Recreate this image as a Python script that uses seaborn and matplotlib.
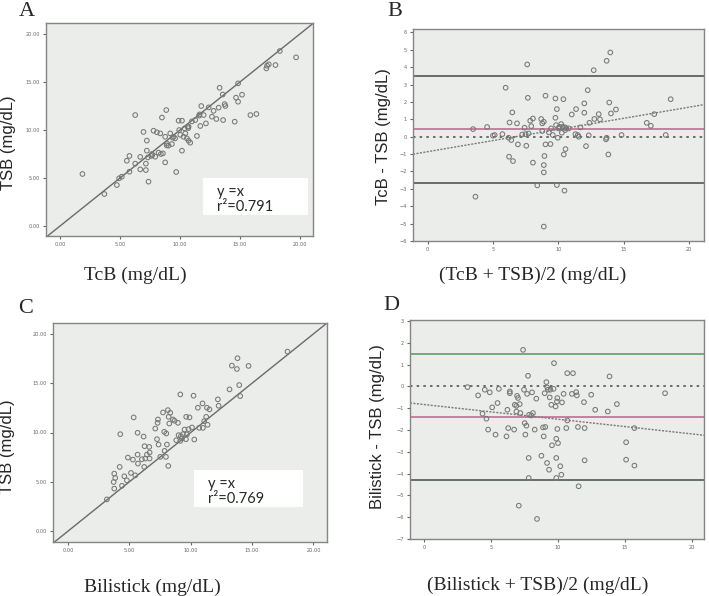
import numpy as np
import pandas as pd
import matplotlib
matplotlib.use("Agg")
import matplotlib.pyplot as plt
from matplotlib.ticker import FormatStrFormatter
import seaborn as sns

# ---------------- data ----------------
# Panel A: TcB vs TSB
a_tcb = [1.87, 3.7, 4.74, 4.93, 5.15, 5.79, 5.57, 5.79, 6.27, 6.27, 6.69, 6.69, 6.96, 7.16, 7.16,
         7.24, 7.24, 7.33, 7.38, 7.66, 7.8, 7.94, 8.08, 8.22, 8.36, 8.41, 8.5, 8.58, 8.77, 8.77,
         8.86, 8.91, 9.05, 9.19, 9.33, 9.47, 9.6, 9.69, 9.89, 9.94, 10.03, 10.17, 10.17, 10.3,
         10.39, 10.45, 10.58, 10.64, 10.72, 10.72, 10.86, 11.0, 11.28, 11.42, 11.64, 11.7, 11.78,
         11.98, 12.17, 12.4, 12.67, 12.81, 13.04, 13.23, 13.31, 13.57, 13.6, 13.73, 13.79, 14.57,
         14.68, 14.85, 14.85, 15.18, 15.88, 16.38, 17.21, 17.27, 17.41, 17.97, 18.33, 19.69,
         7.7, 9.4, 10.7, 11.6, 8.9, 7.6]
a_tsb = [5.42, 3.33, 4.27, 4.97, 5.14, 5.66, 6.8, 7.3, 6.5, 11.56, 5.9, 7.2, 9.8, 6.5, 5.83,
         8.9, 7.85, 7.15, 4.62, 7.5, 9.93, 7.22, 9.76, 7.64, 9.65, 7.5, 11.3, 7.57, 9.3, 6.63,
         12.08, 8.6, 8.37, 9.65, 8.54, 9.3, 9.13, 5.63, 10.97, 10.0, 9.5, 10.97, 7.85, 9.3,
         10.17, 9.65, 9.13, 10.35, 10.35, 8.89, 8.68, 10.9, 11.04, 9.38, 11.63, 10.42, 12.5,
         11.56, 10.69, 12.36, 11.39, 12.0, 11.15, 12.33, 14.4, 13.7, 11.04, 12.7, 12.5, 10.87,
         13.37, 14.86, 12.95, 13.68, 11.56, 11.67, 16.42, 16.7, 16.84, 16.77, 18.23, 17.57,
         7.4, 9.2, 10.2, 11.5, 8.4, 7.3]

# Panel B: Bland-Altman TcB - TSB
b_mean = [3.48, 3.66, 4.55, 5.0, 5.13, 5.72, 5.97, 6.2, 6.23, 6.27, 6.4, 6.48, 6.53, 6.84, 6.91,
          7.24, 7.42, 7.5, 7.55, 7.62, 7.67, 7.73, 7.85, 7.93, 8.06, 8.06, 8.39, 8.69, 8.77, 8.77,
          8.89, 8.89, 8.89, 8.89, 8.94, 9.02, 9.02, 9.28, 9.4, 9.45, 9.58, 9.78, 9.78, 9.83, 9.89,
          9.89, 9.96, 10.01, 10.09, 10.22, 10.27, 10.34, 10.39, 10.42, 10.47, 10.52, 10.52, 10.6,
          10.55, 10.8, 11.03, 11.31, 11.36, 11.49, 11.56, 11.69, 11.99, 11.99, 12.12, 12.25, 12.33,
          12.38, 12.71, 12.76, 13.09, 13.19, 13.65, 13.7, 13.7, 13.83, 13.9, 13.98, 14.03, 14.41,
          14.84, 16.77, 17.08, 17.34, 18.22, 18.6]
b_diff = [0.44, -3.45, 0.56, 0.06, 0.1, 0.15, 2.82, -0.06, -1.15, 0.82, -0.19, 1.4, -1.4, 0.77, -0.44,
          0.13, 0.52, 0.15, -0.52, 4.16, 2.24, 0.19, 0.92, 0.61, 1.05, -1.49, -2.8, 1.02, 0.77, 0.33,
          0.86, -1.63, -2.05, -5.17, -1.11, 2.36, -0.44, 0.25, -0.42, 0.48, 0.1, 2.2, 1.09, 0.67, 1.59,
          -2.78, -0.06, 0.48, 0.57, 0.73, 0.23, 0.57, 2.16, -1.02, -3.1, 0.38, 0.54, 0.48,
          -0.71, 0.48, 1.28, 0.15, 1.59, 0.1, 0.0, 0.54, 1.92, 1.38, -0.54, 2.68, 0.08,
          0.8, 3.83, 1.02, 1.3, 1.0, -0.15, 4.37, -0.06, -1.02, 1.97, 4.85, 1.34, 1.57,
          0.1, 0.8, 0.63, 1.3, 0.1, 2.16]
b_upper, b_bias, b_lower = 3.5, 0.44, -2.64
b_slope, b_intercept = 0.128, -0.86

# Panel C: Bilistick vs TSB
c_bili = [3.17, 3.72, 3.77, 3.77, 3.85, 4.21, 4.26, 4.4, 4.59, 4.8, 4.88, 5.13, 5.29, 5.35, 5.48,
          5.67, 5.67, 5.7, 6.02, 6.16, 6.21, 6.24, 6.3, 6.43, 6.65, 6.62, 6.65, 7.11, 7.25, 7.3,
          7.33, 7.38, 7.52, 7.74, 7.84, 7.87, 7.98, 8.01, 8.06, 8.14, 8.17, 8.2, 8.25, 8.33, 8.55,
          8.68, 8.82, 8.96, 9.01, 9.15, 9.15, 9.2, 9.28, 9.36, 9.5, 9.61, 9.63, 9.69, 9.82, 9.9,
          10.1, 10.23, 10.29, 10.69, 10.58, 10.96, 10.99, 11.1, 11.26, 11.32, 11.37, 11.53, 12.21,
          12.27, 13.16, 13.35, 13.76, 13.81, 13.95, 14.03, 14.71, 17.88]
c_tsb = [3.22, 4.98, 4.31, 5.83, 5.39, 6.51, 9.83, 4.6, 5.56, 5.15, 7.46, 5.9, 7.25, 11.53, 5.66,
         9.97, 7.76, 6.85, 7.29, 9.59, 6.51, 8.61, 7.36, 7.76, 7.97, 8.54, 7.36, 10.4, 9.32, 10.98,
         11.32, 8.78, 7.53, 12.03, 10.07, 8.14, 7.53, 9.9, 8.78, 12.27, 6.61, 11.59, 10.91, 12.0, 11.32,
         11.19, 9.22, 10.98, 9.73, 13.86, 9.15, 9.63, 9.39, 9.83, 10.3, 9.32, 11.59, 9.8, 10.34, 11.53,
         10.51, 13.73, 9.29, 10.47, 12.51, 12.95, 10.47, 11.15, 11.59, 12.51, 10.78, 12.34, 13.36,
         12.71, 14.37, 16.78, 16.44, 17.53, 14.81, 13.69, 16.75, 18.2]

# Panel D: Bland-Altman Bilistick - TSB
d_mean = [3.23, 4.02, 4.35, 4.52, 4.64, 4.77, 4.89, 5.07, 5.32, 5.47, 5.57, 6.14, 6.21, 6.27, 6.39,
          6.39, 6.71, 6.76, 6.88, 6.93, 6.88, 7.0, 7.06, 7.13, 7.18, 7.38, 7.45, 7.5, 7.55, 7.63,
          7.68, 7.75, 7.8, 7.8, 7.83, 8.0, 8.05, 8.12, 8.25, 8.37, 8.42, 8.75, 8.87, 8.92, 8.99,
          9.04, 9.12, 9.17, 9.19, 9.24, 9.32, 9.37, 9.42, 9.49, 9.54, 9.66, 9.69, 9.81, 9.86, 9.86,
          9.86, 9.91, 9.94, 9.94, 9.99, 10.16, 10.24, 10.29, 10.41, 10.61, 10.68, 10.68, 11.03,
          11.11, 11.35, 11.4, 11.48, 11.53, 11.93, 11.98, 11.98, 12.47, 12.77, 13.71, 13.84, 14.39,
          15.08, 15.08, 15.7, 15.7, 17.99]
d_diff = [-0.03, -0.41, -1.25, -0.15, -1.48, -1.98, -0.27, -0.96, -2.21, -0.76, -0.11, -2.29, -1.07, -1.91, -0.23,
          -0.31, -1.98, -0.84, -0.89, -0.43, -1.15, -0.53, -5.47, -0.81, -1.22, 1.68, -0.15, -1.68, -2.21, -1.8,
          -0.34, 0.49, -3.28, -4.2, -1.3, -1.33, -0.27, -1.22, -1.98, -0.56, -6.08, -3.18, -1.88, -2.29, -0.31,
          -1.86, 0.2, -3.51, -0.05, -0.15, -3.82, -0.5, -0.15, -0.84, -2.7, -0.11, 1.07, -0.92, -4.2, -3.28,
          -2.4, -0.69, -0.53, -1.95, -2.6, -3.66, -4.05, -0.73, -0.34, -1.91, -1.56, 0.61, -0.34,
          0.61, -0.26, -0.41, -1.86, -4.58, -0.72, -1.91, -3.39, -0.38, -1.07, -1.15, 0.46, -0.81,
          -2.56, -3.36, -1.91, -3.63, -0.31]
d_upper, d_bias, d_lower = 1.47, -1.42, -4.27
d_slope, d_intercept = -0.0674, -0.83

r2_a = "0.791"
r2_c = "0.769"

# ---------------- styling ----------------
sns.set_style("ticks")
plt.rcParams['font.family'] = ['DejaVu Sans']

W, H = 709, 596
fig = plt.figure(figsize=(W / 100, H / 100), dpi=100)

BG = "#eaedea"
FRAME = "#858585"
PT = "#777777"
SERIF = ["Liberation Serif", "DejaVu Serif"]
SANS = ["Liberation Sans", "DejaVu Sans"]


def make_ax(l, r, t, b):
    return fig.add_axes([l / W, 1 - b / H, (r - l) / W, (b - t) / H])


def style(ax):
    ax.set_facecolor(BG)
    for s in ax.spines.values():
        s.set_color(FRAME)
        s.set_linewidth(1.0)
    ax.tick_params(axis="both", direction="out", length=2.5, width=0.8, color="#666666",
                   labelsize=3.6, labelcolor="#666666", pad=2)
    ax.set_xlabel("")
    ax.set_ylabel("")


def scatter(ax, x, y):
    df = pd.DataFrame({"x": x, "y": y})
    sns.scatterplot(data=df, x="x", y="y", ax=ax, marker="o", s=11,
                    facecolor="none", edgecolor=PT, linewidth=0.75, legend=False, zorder=3)


def textbox(ax, l, r, t, b, r2):
    rect = plt.Rectangle((l / W, 1 - b / H), (r - l) / W, (b - t) / H, transform=fig.transFigure,
                         facecolor="white", edgecolor="none", zorder=5)
    fig.patches.append(rect)
    fig.text((l + 14) / W, 1 - (t + 14) / H, "y =x", fontsize=10.5, family=["Lato", "DejaVu Sans"],
             va="center", ha="left", zorder=6)
    fig.text((l + 14) / W, 1 - (t + 29) / H, "r\u00b2=" + r2, fontsize=10.5, family=["Lato", "DejaVu Sans"],
             va="center", ha="left", zorder=6)


# ---------- Panel A ----------
axA = make_ax(46, 313, 23, 236)
scatter(axA, a_tcb, a_tsb)
axA.axline((0, 0), slope=1, color="#6a6a6a", lw=1.0, zorder=2)
axA.set_xlim(-1.17, 21.1)
axA.set_ylim(-1.04, 21.15)
axA.set_xticks([0, 5, 10, 15, 20])
axA.set_yticks([0, 5, 10, 15, 20])
axA.xaxis.set_major_formatter(FormatStrFormatter("%.2f"))
axA.yaxis.set_major_formatter(FormatStrFormatter("%.2f"))
style(axA)
textbox(axA, 203, 308, 178, 215, r2_a)

# ---------- Panel B ----------
axB = make_ax(413, 704, 29, 241)
scatter(axB, b_mean, b_diff)
axB.axhline(b_upper, color="#4e5955", lw=1.2, zorder=2)
axB.axhline(b_lower, color="#4e5955", lw=1.2, zorder=2)
axB.axhline(b_bias, color="#c46b93", lw=1.2, zorder=2)
axB.axhline(0, color="#555555", lw=1.2, ls=(0, (1.5, 2.5)), zorder=2)
axB.axline((0, b_intercept), slope=b_slope, color="#7a7a7a", lw=1.0, ls=(0, (1.5, 1)), zorder=2)
axB.set_xlim(-1.12, 21.15)
axB.set_ylim(-6, 6.2)
axB.set_xticks([0, 5, 10, 15, 20])
axB.set_yticks(list(range(-6, 7)))
style(axB)

# ---------- Panel C ----------
axC = make_ax(53, 327, 323, 542)
scatter(axC, c_bili, c_tsb)
axC.axline((0, 0), slope=1, color="#6a6a6a", lw=1.0, zorder=2)
axC.set_xlim(-1.22, 21.1)
axC.set_ylim(-1.1, 21.1)
axC.set_xticks([0, 5, 10, 15, 20])
axC.set_yticks([0, 5, 10, 15, 20])
axC.xaxis.set_major_formatter(FormatStrFormatter("%.2f"))
axC.yaxis.set_major_formatter(FormatStrFormatter("%.2f"))
style(axC)
textbox(axC, 194, 303, 470, 507, r2_c)

# ---------- Panel D ----------
axD = make_ax(410, 704, 320, 539)
scatter(axD, d_mean, d_diff)
axD.axhline(d_upper, color="#5f9e6e", lw=1.2, zorder=2)
axD.axhline(d_lower, color="#4e5955", lw=1.2, zorder=2)
axD.axhline(d_bias, color="#c46b93", lw=1.2, zorder=2)
axD.axhline(0, color="#555555", lw=1.2, ls=(0, (1.5, 2.5)), zorder=2)
axD.axline((0, d_intercept), slope=d_slope, color="#7a7a7a", lw=1.0, ls=(0, (1.5, 1)), zorder=2)
axD.set_xlim(-1.07, 20.9)
axD.set_ylim(-7, 3.05)
axD.set_xticks([0, 5, 10, 15, 20])
axD.set_yticks(list(range(-7, 4)))
style(axD)

# ---------- labels ----------
def ftext(x, y, s, **kw):
    fig.text(x / W, 1 - y / H, s, ha="center", va="center", **kw)

ftext(27, 11, "A", fontsize=16, family=SERIF)
ftext(395, 12, "B", fontsize=16, family=SERIF)
ftext(26, 309, "C", fontsize=16, family=SERIF)
ftext(391, 306, "D", fontsize=16, family=SERIF)

ftext(9, 143, "TSB (mg/dL)", fontsize=12, family=SANS, rotation=90)
ftext(383, 137, "TcB - TSB (mg/dL)", fontsize=12, family=SANS, rotation=90)
ftext(8, 447, "TSB (mg/dL)", fontsize=12, family=SANS, rotation=90)
ftext(378, 427, "Bilistick - TSB (mg/dL)", fontsize=12, family=SANS, rotation=90)

ftext(135, 275, "TcB (mg/dL)", fontsize=14, family=SERIF)
ftext(533, 275, "(TcB + TSB)/2 (mg/dL)", fontsize=14, family=SERIF)
ftext(152, 587, "Bilistick (mg/dL)", fontsize=14, family=SERIF)
ftext(538, 585, "(Bilistick + TSB)/2 (mg/dL)", fontsize=14, family=SERIF)

fig.savefig("out.png", dpi=100, facecolor="white")
